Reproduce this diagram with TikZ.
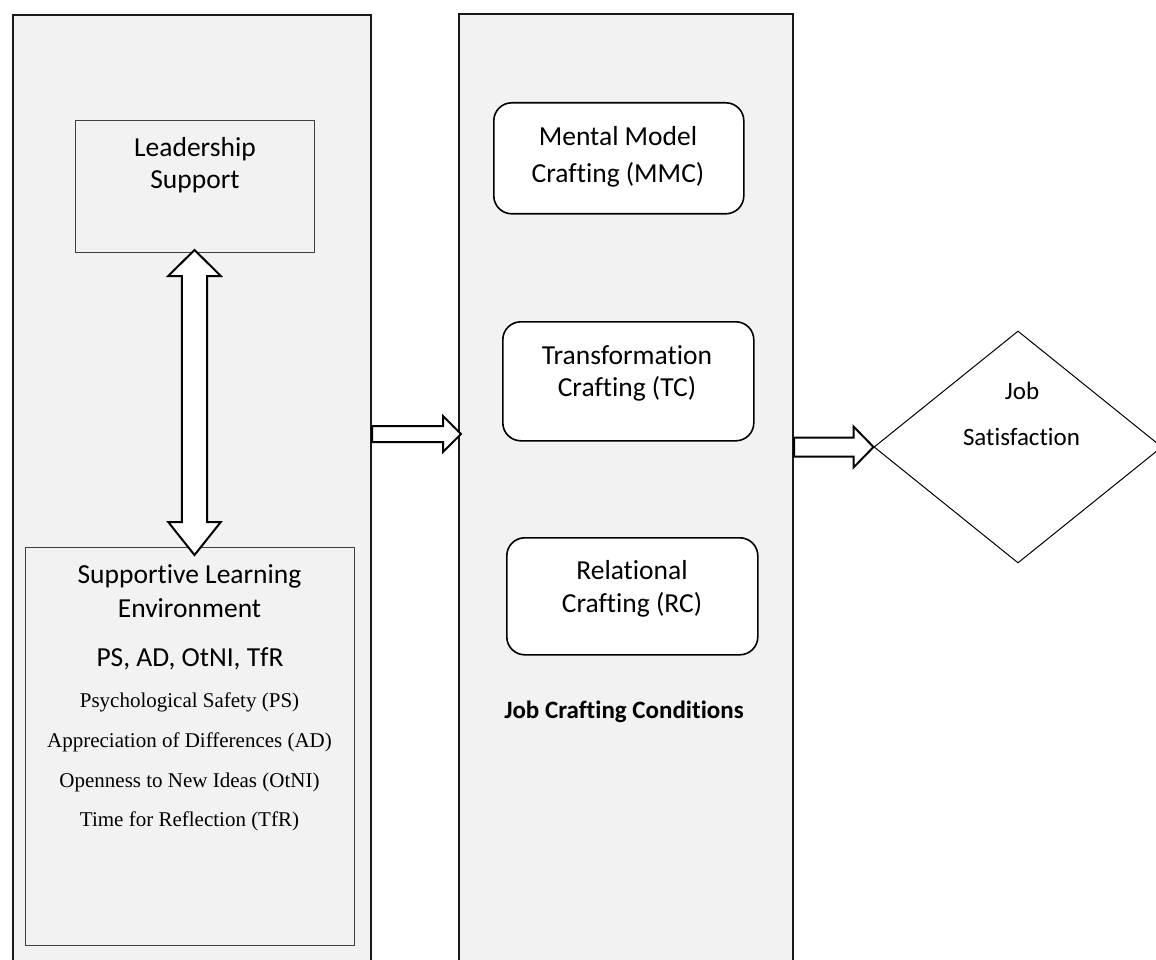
\documentclass[tikz,border=0pt]{standalone}
\usepackage{fontspec}
\setmainfont{Carlito}[Ligatures=NoCommon]
\newfontfamily\tnrfont{Liberation Serif}
\usetikzlibrary{shapes.geometric, calc}
\definecolor{panelgray}{HTML}{F2F2F2}

\begin{document}
\begin{tikzpicture}[x=1pt, y=-1pt,
    panel/.style={draw=black!90, line width=2pt, fill=panelgray, inner sep=0pt, anchor=north west},
    frame/.style={draw=black!75, line width=1pt, fill=panelgray, inner sep=0pt, anchor=north west},
    craft/.style={draw=black, line width=1.6pt, fill=white, rounded corners=18pt, inner sep=0pt, anchor=north west},
    hollow/.style={draw=black, line width=2pt, fill=white, line join=miter},
    txt/.style={font=\fontsize{27.5}{33}\selectfont, anchor=base, inner sep=0pt},
    small/.style={font=\tnrfont\fontsize{21}{25}\selectfont, anchor=base, inner sep=0pt}]
            \useasboundingbox (0,0) rectangle (1156,960);
            \clip (0,0) rectangle (1156,960);

            % Nodes
            \node[panel, minimum width=358pt, minimum height=970pt] (lpanel) at (12,14) {};
            \node[panel, minimum width=334pt, minimum height=970pt] (mpanel) at (458,13) {};
            \node[frame, minimum width=239pt, minimum height=132pt] (lead) at (75,120) {};
            \node[frame, minimum width=329pt, minimum height=398pt] (sle) at (25,547) {};
            \node[craft, minimum width=250pt, minimum height=111pt] (mmc) at (493,102) {};
            \node[craft, minimum width=251pt, minimum height=119pt] (tc) at (502,321) {};
            \node[craft, minimum width=251pt, minimum height=117pt] (rc) at (506,537) {};
            \node[diamond, draw, line width=1pt, fill=white, inner sep=0pt, minimum width=288pt, minimum height=232pt] (js) at (1018,447) {};

            % Texts
            \node[txt] (lead1) at (195,157) {Leadership};
            \node[txt] (lead2) at (195,189) {Support};
            \node[txt] (sle1) at (189.5,583) {Supportive Learning};
            \node[txt] (sle2) at (189.5,617) {Environment};
            \node[txt] (sle3) at (190,666) {PS, AD, OtNI, TfR};
            \node[small] (ps) at (189.5,707) {Psychological Safety (PS)};
            \node[small] (ad) at (189.5,747) {Appreciation of Differences (AD)};
            \node[small] (otni) at (189.5,787) {Openness to New Ideas (OtNI)};
            \node[small] (tfr) at (189.5,826) {Time for Reflection (TfR)};
            \node[txt] (mmc1) at (618,146) {Mental Model};
            \node[txt] (mmc2) at (618,183) {Crafting (MMC)};
            \node[txt] (tc1) at (627,364) {Transformation};
            \node[txt] (tc2) at (627,396) {Crafting (TC)};
            \node[txt] (rc1) at (632,579) {Relational};
            \node[txt] (rc2) at (632,612) {Crafting (RC)};
            \node[txt, font=\bfseries\fontsize{25}{30}\selectfont] (jcc) at (624,718) {Job Crafting Conditions};
            \node[txt, font=\fontsize{25}{30}\selectfont] (job) at (1022,399) {Job};
            \node[txt, font=\fontsize{25}{30}\selectfont] (sat) at (1021.5,445) {Satisfaction};

            % Edges
            \coordinate (up) at ($(lead.south)+(-0.5,-3)$);
            \coordinate (down) at ($(up |- sle.north)+(0,8)$);
            \draw[hollow] (up) -- ++(26.3,26) -- ++(-13.6,0) -- ($(down)+(12.7,-33)$) -- ++(13.6,0) -- (down)
                -- ++(-26.3,-33) -- ++(13.6,0) -- ($(up)+(-12.7,26)$) -- ++(-13.6,0) -- cycle;

            \coordinate (tip1) at ($(mpanel.west |- 0,434)+(3,0)$);
            \coordinate (tail1) at (lpanel.east |- tip1);
            \draw[hollow] ($(tail1)+(0,-8)$) -- ($(tip1)+(-18,-8)$) -- ($(tip1)+(-18,-18)$) -- (tip1)
                -- ($(tip1)+(-18,18)$) -- ($(tip1)+(-18,8)$) -- ($(tail1)+(0,8)$) -- cycle;

            \coordinate (tip2) at (js.west);
            \coordinate (tail2) at (mpanel.east |- tip2);
            \draw[hollow] ($(tail2)+(0,-9.5)$) -- ($(tip2)+(-20,-9.5)$) -- ($(tip2)+(-20,-20.5)$) -- (tip2)
                -- ($(tip2)+(-20,20.5)$) -- ($(tip2)+(-20,9.5)$) -- ($(tail2)+(0,9.5)$) -- cycle;

        \end{tikzpicture}
\end{document}
